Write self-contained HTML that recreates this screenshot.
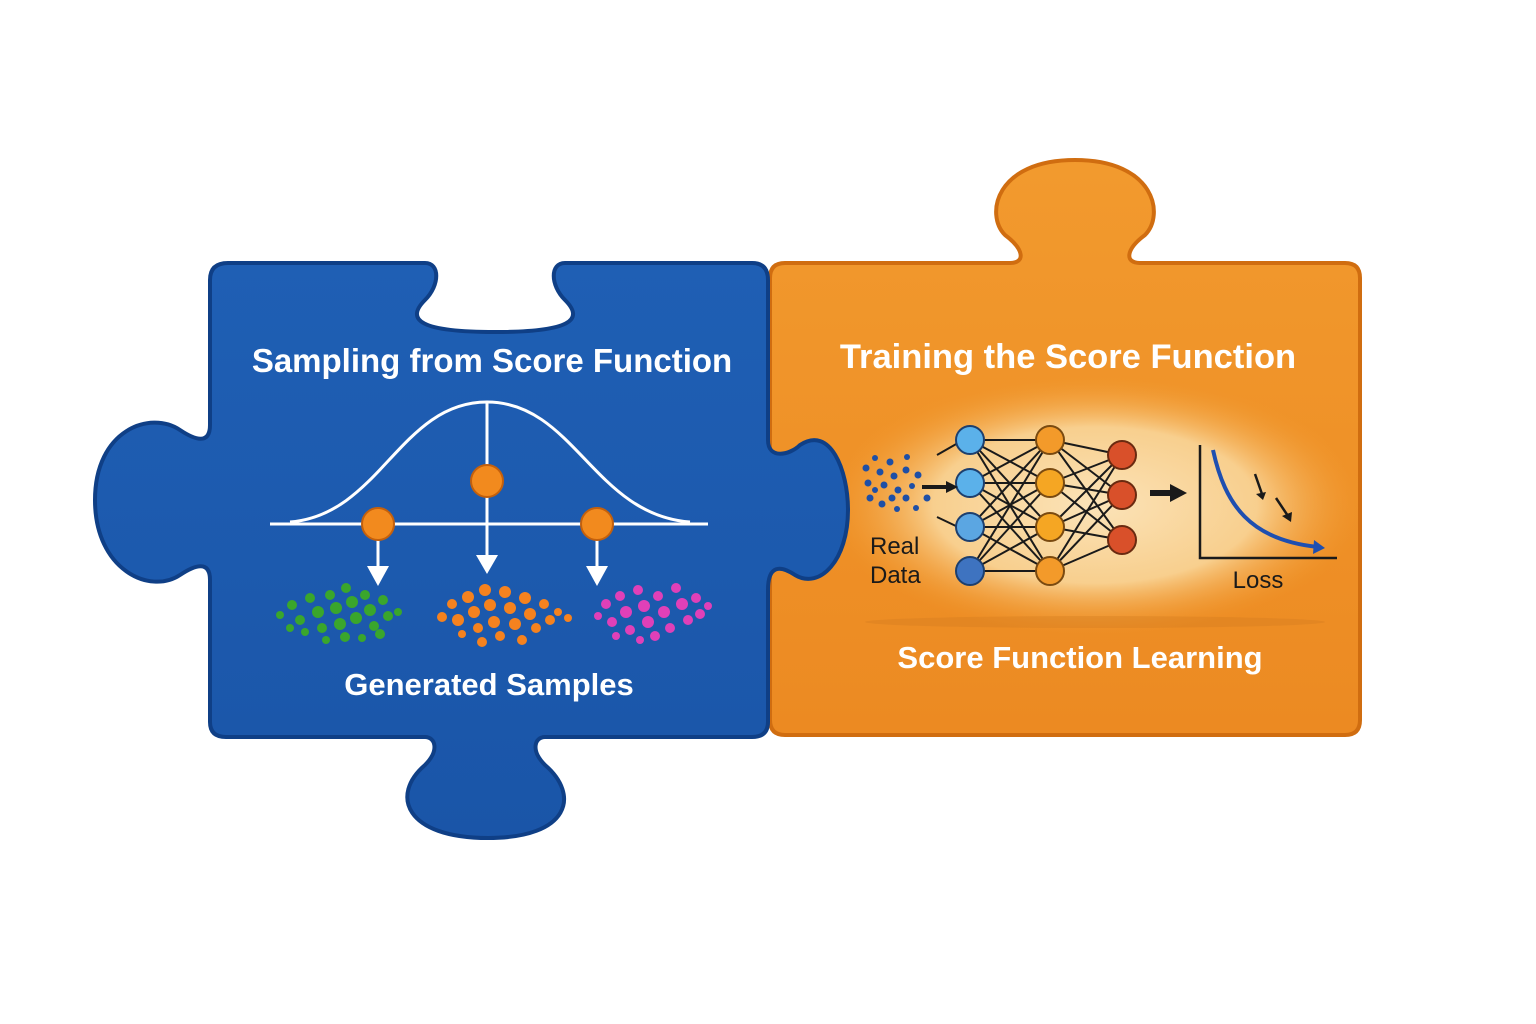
<!DOCTYPE html>
<html><head><meta charset="utf-8"><style>
html,body{margin:0;padding:0;background:#fff;}
svg{display:block;}
text{font-family:"Liberation Sans",sans-serif;}
</style></head><body>
<svg width="1536" height="1024" viewBox="0 0 1536 1024" xmlns="http://www.w3.org/2000/svg">
<defs>
<linearGradient id="og" x1="0" y1="0" x2="0" y2="1"><stop offset="0" stop-color="#f29a2e"/><stop offset="1" stop-color="#ec8a22"/></linearGradient>
<radialGradient id="glow" cx="0.5" cy="0.5" r="0.5"><stop offset="0" stop-color="#fbe3b8"/><stop offset="0.6" stop-color="#f8cf8e"/><stop offset="1" stop-color="#f29a2e" stop-opacity="0"/></radialGradient>
<linearGradient id="bg" x1="0" y1="0" x2="0" y2="1"><stop offset="0" stop-color="#1f5fb4"/><stop offset="1" stop-color="#1a55a8"/></linearGradient>
<clipPath id="oc"><rect x="772" y="265" width="586" height="468"/></clipPath>
</defs>
<!-- orange piece -->
<path d="M785 263 H1010 C1025 263 1025 250 1005 235 C985 215 995 160 1075 160 C1155 160 1165 215 1145 235 C1125 250 1125 263 1140 263 H1345 Q1360 263 1360 278 V720 Q1360 735 1345 735 H785 Q770 735 770 720 V278 Q770 263 785 263 Z" fill="url(#og)" stroke="#d06d10" stroke-width="4"/>
<g clip-path="url(#oc)">
<ellipse cx="1095" cy="505" rx="270" ry="130" fill="url(#glow)"/>
<ellipse cx="1095" cy="622" rx="230" ry="6" fill="#d27a20" opacity="0.35"/>
</g>
<!-- blue piece -->
<path d="M228 263 H425 C440 263 440 285 425 300 C405 320 420 332 495 332 C570 332 585 320 565 300 C550 285 550 263 565 263 H752 Q768 263 768 280 V440 C768 460 790 455 800 445 C830 425 848 470 848 510 C848 560 820 590 795 575 C780 565 768 565 768 590 V722 Q768 737 752 737 H545 C535 737 530 750 545 765 C580 795 570 838 488 838 C405 838 390 795 425 765 C440 750 435 737 425 737 H226 Q210 737 210 722 V580 C210 560 195 565 180 575 C150 595 95 570 95 500 C95 430 150 410 180 430 C195 440 210 445 210 425 V280 Q210 263 228 263 Z" fill="url(#bg)" stroke="#0f3f86" stroke-width="4"/>
<!-- titles -->
<text x="492" y="372" font-size="33" font-weight="bold" fill="#fff" text-anchor="middle">Sampling from Score Function</text>
<text x="1068" y="368" font-size="34.5" font-weight="bold" fill="#fff" text-anchor="middle">Training the Score Function</text>
<text x="489" y="695" font-size="31" font-weight="bold" fill="#fff" text-anchor="middle">Generated Samples</text>
<text x="1080" y="668" font-size="31" font-weight="bold" fill="#fff" text-anchor="middle">Score Function Learning</text>
<!-- bell curve -->
<g stroke="#fff" stroke-width="3" fill="none">
<line x1="270" y1="524" x2="708" y2="524"/>
<path d="M290 522 C380 515 400 402 487 402 C574 402 594 515 690 522"/>
<line x1="487" y1="402" x2="487" y2="560"/>
<line x1="378" y1="535" x2="378" y2="572"/>
<line x1="597" y1="535" x2="597" y2="572"/>
</g>
<g fill="#fff">
<polygon points="476,555 498,555 487,574"/>
<polygon points="367,566 389,566 378,586"/>
<polygon points="586,566 608,566 597,586"/>
</g>
<g fill="#f28a1e" stroke="#c4600c" stroke-width="2">
<circle cx="487" cy="481" r="16"/><circle cx="378" cy="524" r="16"/><circle cx="597" cy="524" r="16"/>
</g>
<!-- clusters -->
<g fill="#3aa62c">
<circle cx="280" cy="615" r="4"/><circle cx="292" cy="605" r="5"/><circle cx="300" cy="620" r="5"/><circle cx="310" cy="598" r="5"/><circle cx="318" cy="612" r="6"/><circle cx="322" cy="628" r="5"/><circle cx="330" cy="595" r="5"/><circle cx="336" cy="608" r="6"/><circle cx="340" cy="624" r="6"/><circle cx="346" cy="588" r="5"/><circle cx="352" cy="602" r="6"/><circle cx="356" cy="618" r="6"/><circle cx="345" cy="637" r="5"/><circle cx="365" cy="595" r="5"/><circle cx="370" cy="610" r="6"/><circle cx="374" cy="626" r="5"/><circle cx="383" cy="600" r="5"/><circle cx="388" cy="616" r="5"/><circle cx="380" cy="634" r="5"/><circle cx="398" cy="612" r="4"/><circle cx="305" cy="632" r="4"/><circle cx="326" cy="640" r="4"/><circle cx="362" cy="638" r="4"/><circle cx="290" cy="628" r="4"/>
</g>
<g fill="#f5821f">
<circle cx="442" cy="617" r="5"/><circle cx="452" cy="604" r="5"/><circle cx="458" cy="620" r="6"/><circle cx="468" cy="597" r="6"/><circle cx="474" cy="612" r="6"/><circle cx="478" cy="628" r="5"/><circle cx="485" cy="590" r="6"/><circle cx="490" cy="605" r="6"/><circle cx="494" cy="622" r="6"/><circle cx="500" cy="636" r="5"/><circle cx="505" cy="592" r="6"/><circle cx="510" cy="608" r="6"/><circle cx="515" cy="624" r="6"/><circle cx="522" cy="640" r="5"/><circle cx="525" cy="598" r="6"/><circle cx="530" cy="614" r="6"/><circle cx="536" cy="628" r="5"/><circle cx="544" cy="604" r="5"/><circle cx="550" cy="620" r="5"/><circle cx="558" cy="612" r="4"/><circle cx="568" cy="618" r="4"/><circle cx="462" cy="634" r="4"/><circle cx="482" cy="642" r="5"/>
</g>
<g fill="#e040b8">
<circle cx="598" cy="616" r="4"/><circle cx="606" cy="604" r="5"/><circle cx="612" cy="622" r="5"/><circle cx="620" cy="596" r="5"/><circle cx="626" cy="612" r="6"/><circle cx="630" cy="630" r="5"/><circle cx="638" cy="590" r="5"/><circle cx="644" cy="606" r="6"/><circle cx="648" cy="622" r="6"/><circle cx="655" cy="636" r="5"/><circle cx="658" cy="596" r="5"/><circle cx="664" cy="612" r="6"/><circle cx="670" cy="628" r="5"/><circle cx="676" cy="588" r="5"/><circle cx="682" cy="604" r="6"/><circle cx="688" cy="620" r="5"/><circle cx="696" cy="598" r="5"/><circle cx="700" cy="614" r="5"/><circle cx="708" cy="606" r="4"/><circle cx="616" cy="636" r="4"/><circle cx="640" cy="640" r="4"/>
</g>
<!-- network -->
<g stroke="#1a1a1a" stroke-width="2">
<line x1="937" y1="455" x2="958" y2="443"/><line x1="937" y1="517" x2="958" y2="527"/>
<line x1="970" y1="440" x2="1050" y2="440"/><line x1="970" y1="440" x2="1050" y2="483"/><line x1="970" y1="440" x2="1050" y2="527"/><line x1="970" y1="440" x2="1050" y2="571"/>
<line x1="970" y1="483" x2="1050" y2="440"/><line x1="970" y1="483" x2="1050" y2="483"/><line x1="970" y1="483" x2="1050" y2="527"/><line x1="970" y1="483" x2="1050" y2="571"/>
<line x1="970" y1="527" x2="1050" y2="440"/><line x1="970" y1="527" x2="1050" y2="483"/><line x1="970" y1="527" x2="1050" y2="527"/><line x1="970" y1="527" x2="1050" y2="571"/>
<line x1="970" y1="571" x2="1050" y2="440"/><line x1="970" y1="571" x2="1050" y2="483"/><line x1="970" y1="571" x2="1050" y2="527"/><line x1="970" y1="571" x2="1050" y2="571"/>
<line x1="1050" y1="440" x2="1122" y2="455"/><line x1="1050" y1="440" x2="1122" y2="495"/><line x1="1050" y1="440" x2="1122" y2="540"/>
<line x1="1050" y1="483" x2="1122" y2="455"/><line x1="1050" y1="483" x2="1122" y2="495"/><line x1="1050" y1="483" x2="1122" y2="540"/>
<line x1="1050" y1="527" x2="1122" y2="455"/><line x1="1050" y1="527" x2="1122" y2="495"/><line x1="1050" y1="527" x2="1122" y2="540"/>
<line x1="1050" y1="571" x2="1122" y2="455"/><line x1="1050" y1="571" x2="1122" y2="495"/><line x1="1050" y1="571" x2="1122" y2="540"/>
</g>
<g stroke="#1d3f6e" stroke-width="2">
<circle cx="970" cy="440" r="14" fill="#5bb1ea"/><circle cx="970" cy="483" r="14" fill="#5bb1ea"/><circle cx="970" cy="527" r="14" fill="#5ba6e2"/><circle cx="970" cy="571" r="14" fill="#3e73c0"/>
</g>
<g stroke="#7a4a10" stroke-width="2" fill="#f39a2a">
<circle cx="1050" cy="440" r="14"/><circle cx="1050" cy="483" r="14" fill="#f5a623"/><circle cx="1050" cy="527" r="14" fill="#f5a623"/><circle cx="1050" cy="571" r="14"/>
</g>
<g stroke="#6a2a10" stroke-width="2" fill="#d9502a">
<circle cx="1122" cy="455" r="14"/><circle cx="1122" cy="495" r="14"/><circle cx="1122" cy="540" r="14"/>
</g>
<g fill="#1e4fa6">
<circle cx="866" cy="468" r="3.5"/><circle cx="875" cy="458" r="3"/><circle cx="880" cy="472" r="3.5"/><circle cx="890" cy="462" r="3.5"/><circle cx="894" cy="476" r="3.5"/><circle cx="907" cy="457" r="3"/><circle cx="906" cy="470" r="3.5"/><circle cx="918" cy="475" r="3.5"/><circle cx="868" cy="483" r="3.5"/><circle cx="884" cy="485" r="3.5"/><circle cx="898" cy="490" r="3.5"/><circle cx="912" cy="486" r="3"/><circle cx="870" cy="498" r="3.5"/><circle cx="882" cy="504" r="3.5"/><circle cx="892" cy="498" r="3.5"/><circle cx="906" cy="498" r="3.5"/><circle cx="916" cy="508" r="3"/><circle cx="927" cy="498" r="3.5"/><circle cx="897" cy="509" r="3"/><circle cx="875" cy="490" r="3"/>
</g>
<line x1="922" y1="487" x2="948" y2="487" stroke="#1a1a1a" stroke-width="4"/>
<polygon points="946,481 958,487 946,493" fill="#1a1a1a"/>
<line x1="1150" y1="493" x2="1172" y2="493" stroke="#1a1a1a" stroke-width="6"/>
<polygon points="1170,484 1187,493 1170,502" fill="#1a1a1a"/>
<text x="870" y="554" font-size="24" fill="#1a1a1a">Real</text>
<text x="870" y="583" font-size="24" fill="#1a1a1a">Data</text>
<!-- loss chart -->
<g stroke="#1a1a1a" stroke-width="2.5" fill="none">
<polyline points="1200,445 1200,558 1337,558"/>
<line x1="1255" y1="474" x2="1262" y2="494"/><line x1="1276" y1="498" x2="1288" y2="516"/>
</g>
<polygon points="1256,494 1266,492 1263,500" fill="#1a1a1a"/>
<polygon points="1282,516 1292,512 1291,522" fill="#1a1a1a"/>
<path d="M1213 450 C1225 505 1250 540 1318 547" stroke="#1e4fb0" stroke-width="4" fill="none"/>
<polygon points="1314,540 1325,548 1313,554" fill="#1e4fb0"/>
<text x="1258" y="588" font-size="24" fill="#1a1a1a" text-anchor="middle">Loss</text>
</svg>
</body></html>
